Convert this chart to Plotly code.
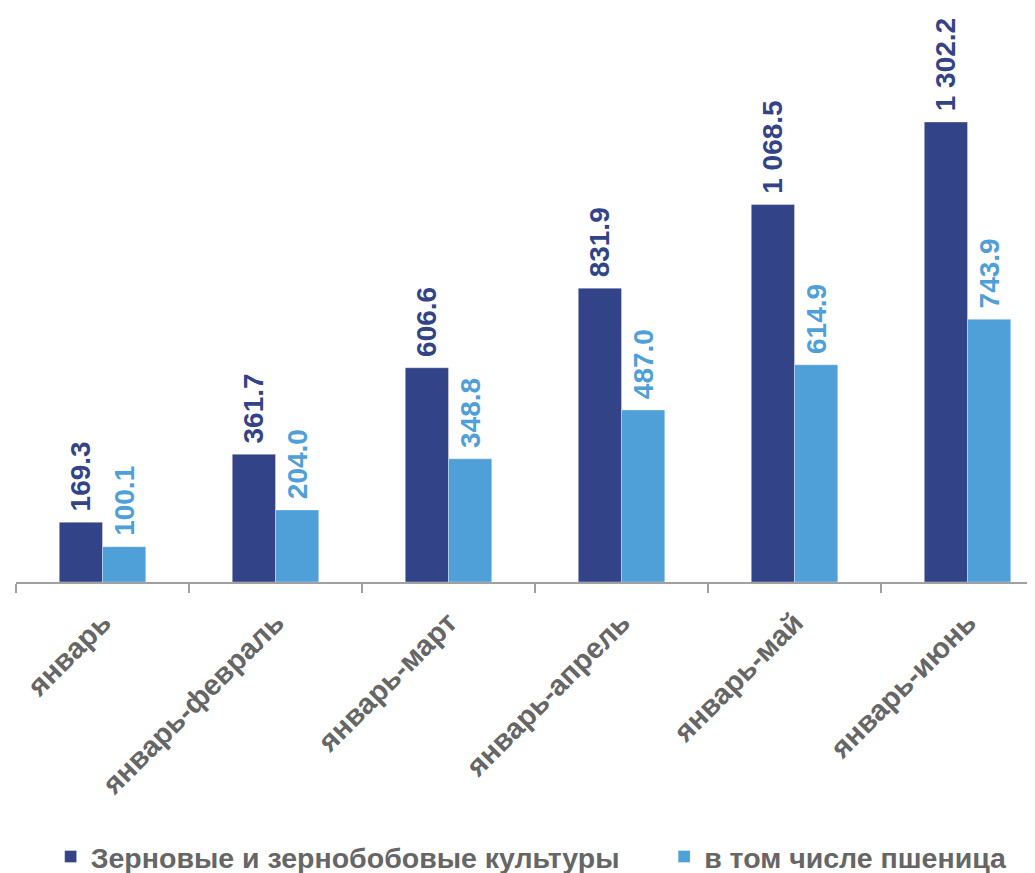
import plotly.graph_objects as go

periods = ["январь", "январь-февраль", "январь-март", "январь-апрель", "январь-май", "январь-июнь"]
grain = [169.3, 361.7, 606.6, 831.9, 1068.5, 1302.2]
wheat = [100.1, 204.0, 348.8, 487.0, 614.9, 743.9]

DARK = "#334388"
LIGHT = "#4FA0D8"
GREY = "#666666"

# the page body keeps its default 8px margin, so the figure is offset by it
fig = go.Figure()
for vals, name, col in [(grain, "Зерновые и зернобобовые культуры" + "\u00a0" * 5, DARK),
                        (wheat, "в том числе пшеница", LIGHT)]:
    fig.add_trace(go.Bar(
        x=periods, y=vals, name=name,
        marker=dict(color=col, line=dict(width=1, color="rgba(255,255,255,0.35)")),
        texttemplate="\u00a0%{y:,.1f}", textposition="outside", textangle=-90,
        textfont=dict(color=col, size=28, family="Liberation Sans", weight="bold"),
        constraintext="none", cliponaxis=False,
    ))

fig.update_layout(
    width=1027, height=865,
    barmode="group", bargap=0.5, bargroupgap=0,
    separators=". ",
    plot_bgcolor="white", paper_bgcolor="white",
    margin=dict(l=8, r=0, t=0, b=291, autoexpand=False),
    font=dict(family="Liberation Sans", color=GREY),
    showlegend=True,
    legend=dict(
        orientation="h", x=0.034, xanchor="left", y=-0.479, yanchor="middle",
        font=dict(family="Liberation Sans", size=28.5, color=GREY, weight="bold"),
        tracegroupgap=0,
    ),
)
fig.update_xaxes(
    range=[-0.5, 5.39], tickson="boundaries", ticks="outside", ticklen=9,
    tickcolor="#A0A0A0", tickwidth=2, showline=True, linecolor="#A0A0A0", linewidth=2,
    tickangle=-45, tickfont=dict(size=29, color=GREY, weight="bold"),
    ticklabelstandoff=10, automargin=False, showgrid=False,
)
fig.update_yaxes(range=[0, 1625], visible=False, showgrid=False, automargin=False)

fig.write_html("out.html")
